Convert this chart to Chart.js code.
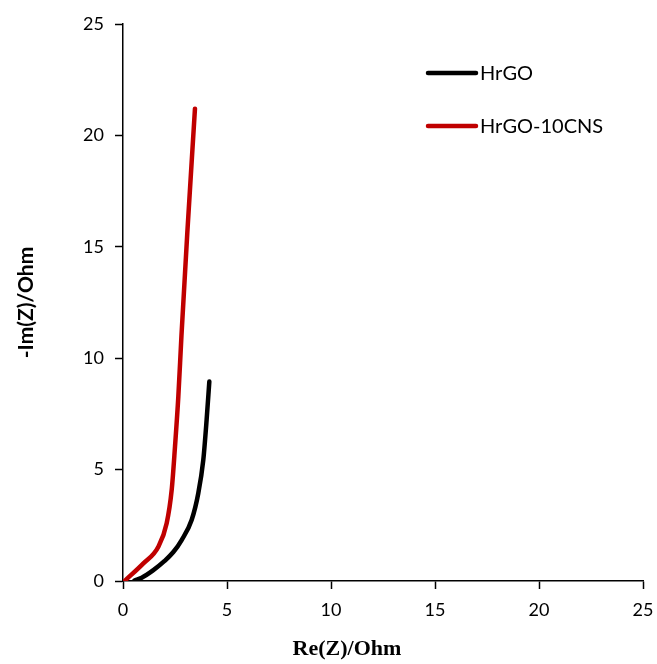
<!DOCTYPE html>
<html>
<head>
<meta charset="utf-8">
<script src="https://cdn.jsdelivr.net/npm/chart.js@4/dist/chart.umd.min.js"></script>
<style>
  html, body { margin: 0; padding: 0; background: #fff; }
  #wrap { width: 657px; height: 664px; }
</style>
</head>
<body>
<div id="wrap"><canvas id="myChart" width="657" height="664"></canvas></div>
<script>
// values
const seriesNames = ['HrGO', 'HrGO-10CNS'];
const seriesColors = ['#000000', '#C00000'];

const hrgoRe = [0.55, 0.9, 1.46, 2.0, 2.42, 2.82, 3.30, 3.62, 3.86, 4.02, 4.15];
const hrgoIm = [0.02, 0.15, 0.49, 0.9, 1.3, 1.84, 2.74, 3.94, 5.43, 7.23, 8.95];

const cnsRe = [0.1, 0.98, 1.70, 2.1, 2.34, 2.5, 2.66, 2.81, 3.09, 3.46];
const cnsIm = [0.02, 0.79, 1.54, 2.59, 4.08, 6.03, 8.27, 11.0, 15.6, 21.2];

const axisTicks = [0, 5, 10, 15, 20, 25];
const xTitle = 'Re(Z)/Ohm';
const yTitle = '-Im(Z)/Ohm';

function toPoints(xs, ys) {
    return xs.map((x, i) => ({ x: x, y: ys[i] }));
}

// legend inside the plot (top right) and the x title, which sits left of centre
const extraText = {
    id: 'extraText',
    afterDraw(chart) {
        const ctx = chart.ctx;
        const area = chart.chartArea;
        const x0 = area.left + 305;
        ctx.save();
        ctx.font = '20px Lato';
        ctx.textBaseline = 'middle';
        chart.data.datasets.forEach((ds, i) => {
            const y = area.top + 49 + i * 53;
            ctx.strokeStyle = ds.borderColor;
            ctx.lineWidth = 4.5;
            ctx.lineCap = 'round';
            ctx.beginPath();
            ctx.moveTo(x0, y);
            ctx.lineTo(x0 + 48, y);
            ctx.stroke();
            ctx.fillStyle = '#000';
            ctx.fillText(ds.label, x0 + 52, y + 1);
        });
        ctx.font = 'bold 22px "Liberation Serif"';
        ctx.textAlign = 'center';
        ctx.fillText(xTitle, area.left + 224, area.bottom + 68);
        ctx.restore();
    }
};

const ctx = document.getElementById('myChart');

let chartJsData = {
    datasets: [{
        label: seriesNames[0],
        data: toPoints(hrgoRe, hrgoIm),
        borderColor: seriesColors[0],
        backgroundColor: seriesColors[0]
    }, {
        label: seriesNames[1],
        data: toPoints(cnsRe, cnsIm),
        borderColor: seriesColors[1],
        backgroundColor: seriesColors[1]
    }]
};

function axis(isY) {
    return {
        type: 'linear',
        min: 0,
        max: 25,
        afterBuildTicks: (scale) => { scale.ticks = axisTicks.map(v => ({ value: v })); },
        border: { display: true, color: '#000', width: 1.5 },
        grid: {
            display: true,
            drawOnChartArea: false,
            drawTicks: true,
            tickLength: 8,
            tickColor: '#000',
            tickWidth: 1.5
        },
        ticks: {
            color: '#000',
            font: { family: 'Lato', size: 18 },
            padding: isY ? 11 : 10,
            maxRotation: 0
        },
        title: {
            display: isY,
            text: yTitle,
            color: '#000',
            font: { family: 'Lato', size: 21, weight: 'bold' },
            padding: { top: 0, bottom: 0 }
        },
        afterFit: (scale) => {
            if (isY) {
                scale.width = 123 - 14;
                scale.paddingTop = 0;
                scale.paddingBottom = 0;
            } else {
                scale.height = 664 - 581 - 6;
                scale.paddingLeft = 0;
                scale.paddingRight = 0;
            }
        }
    };
}

let chartJsOptions = {
    responsive: false,
    animation: false,
    showLine: true,
    layout: { padding: { left: 14, right: 14, top: 24, bottom: 6 } },
    elements: {
        point: { radius: 0, hoverRadius: 0 },
        line: { borderWidth: 4.5, borderCapStyle: 'round', cubicInterpolationMode: 'monotone', fill: false }
    },
    scales: {
        x: axis(false),
        y: axis(true)
    },
    plugins: {
        legend: { display: false },
        tooltip: { enabled: false }
    }
};

new Chart(ctx, {
    type: 'scatter',
    data: chartJsData,
    options: chartJsOptions,
    plugins: [extraText]
});
</script>
</body>
</html>
